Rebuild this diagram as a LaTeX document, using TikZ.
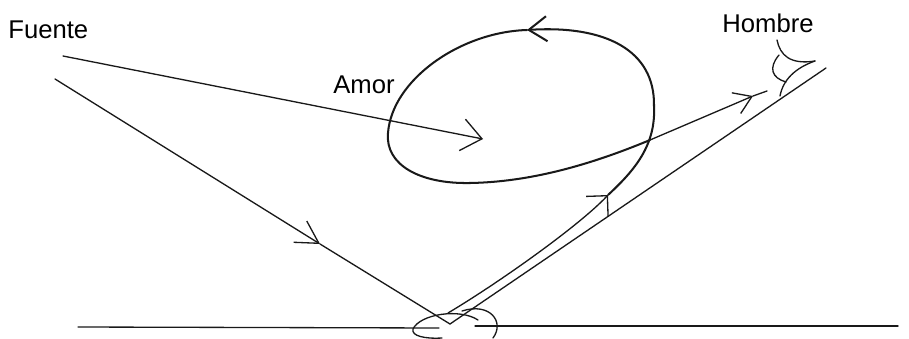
\documentclass[tikz,border=0pt]{standalone}
\usepackage{fontspec}
\setmainfont{Liberation Sans}
\usetikzlibrary{arrows.meta}

\begin{document}
\begin{tikzpicture}[x=0.02cm,y=-0.02cm,
    trazo/.style={line width=0.75pt, black!90, line cap=round},
    lazo/.style={line width=1.15pt, black!90, line cap=round},
    etiqueta/.style={inner sep=0pt, anchor=base west, font=\fontsize{14.6}{17}\selectfont},
    barb/.style 2 args={-{Straight Barb[length=#1,width=#2]}}]
        \useasboundingbox (0,0) rectangle (909,338);
        % Labels
        \node[etiqueta] (fuente) at (8,38) {Fuente};
        \node[etiqueta] (amor) at (333,93) {Amor};
        \node[etiqueta] (hombre) at (722,32) {Hombre};
        % Points of the rays
        \coordinate (rayo1) at (63,56);
        \coordinate (centro) at (483,139);
        \coordinate (rayo2) at (55,79);
        \coordinate (medio) at (320,244);
        \coordinate (vertice) at (450,324);
        \coordinate (ojo) at (826,68);
        \coordinate (rebote) at (448,313);
        \coordinate (subida) at (608,195);
        \coordinate (lado) at (654,106);
        \coordinate (cima) at (527,30);
        \coordinate (izq) at (388,133);
        \coordinate (fondo) at (470,183);
        \coordinate (cruce) at (650,140);
        \coordinate (punta) at (753,96);
        \coordinate (mira) at (767,91);
        % Rays from the source
        \draw[trazo, barb={0.4cm}{0.64cm}] (rayo1) -- (centro);
        \draw[trazo, barb={0.44cm}{0.5cm}] (rayo2) -- (medio);
        \draw[trazo] (medio) -- (vertice) -- (ojo);
        % The loop
        \draw[trazo, barb={0.3cm}{0.6cm}] (rebote) .. controls (500,282) and (580,225) .. (subida);
        \draw[lazo] (subida) .. controls (635,170) and (656,145) .. (lado);
        \draw[lazo, barb={0.36cm}{0.5cm}] (lado) .. controls (655,50) and (605,25) .. (cima);
        \draw[lazo] (cima) .. controls (460,32) and (392,80) .. (izq)
            .. controls (385,165) and (420,184) .. (fondo)
            .. controls (530,182) and (590,165) .. (cruce);
        \draw[trazo, barb={0.34cm}{0.45cm}] (cruce) -- (punta);
        \draw[trazo] (punta) -- (mira);
        % Ground
        \coordinate (suelo1) at (78,327);
        \coordinate (suelo2) at (439,328);
        \coordinate (suelo3) at (475,326);
        \coordinate (suelo4) at (898,326);
        \draw[trazo] (suelo1) -- (suelo2);
        \draw[trazo] (suelo3) -- (suelo4);
        \draw[trazo] (478,320) .. controls (460,308) and (420,314) .. (413,329)
            .. controls (411,336) and (425,339) .. (442,338);
        \draw[trazo] (462,311) .. controls (490,302) and (505,322) .. (493,338);
        % Eye of the man
        \draw[trazo] (777,40) .. controls (780,55) and (790,65) .. (815,61);
        \draw[trazo] (815,61) .. controls (795,68) and (783,80) .. (780,96);
        \draw[trazo] (779,55) .. controls (768,68) and (772,78) .. (786,82);
\end{tikzpicture}
\end{document}
